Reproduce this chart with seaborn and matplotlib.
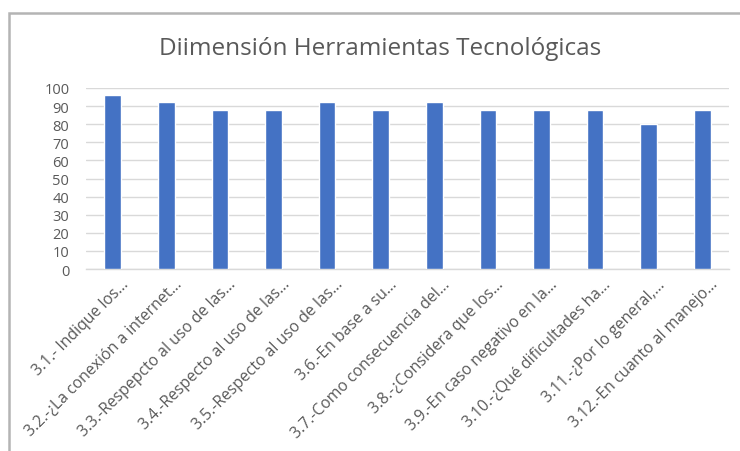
import matplotlib
matplotlib.use("Agg")
import matplotlib.pyplot as plt
import seaborn as sns
import pandas as pd
from matplotlib.transforms import ScaledTranslation

# Dimension data: one bar per question
preguntas = [
    "3.1.- Indique los…",
    "3.2.-¿La conexión a internet…",
    "3.3.-Respepcto al uso de las…",
    "3.4.-Respecto al uso de las…",
    "3.5.-Respecto al uso de las…",
    "3.6.-En base a su…",
    "3.7.-Como consecuencia del…",
    "3.8.-¿Considera que los…",
    "3.9.-En caso negativo en la…",
    "3.10.-¿Qué dificultades ha…",
    "3.11.-¿Por lo general,…",
    "3.12.-En cuanto al manejo…",
]
valores = [96, 92, 88, 88, 92, 88, 92, 88, 88, 88, 80, 88]
yticks = [0, 10, 20, 30, 40, 50, 60, 70, 80, 90, 100]
titulo = "Diimensión Herramientas Tecnológicas"

df = pd.DataFrame({"pregunta": preguntas, "valor": valores})

sns.set_theme(style="white")
plt.rcParams["font.family"] = ["Open Sans", "DejaVu Sans"]

texto = "#595959"
grid = "#d9d9d9"

fig = plt.figure(figsize=(7.4, 4.52), dpi=100)
ax = fig.add_axes([86 / 740, 1 - 270 / 452, (729 - 86) / 740, (270 - 89) / 452])

sns.barplot(data=df, x="pregunta", y="valor", color="#4472C4",
            saturation=1, width=0.31, ax=ax, zorder=3)

ax.set_ylim(0, 100)
ax.set_xlim(-0.5, len(preguntas) - 0.5)
ax.set_yticks(yticks)
ax.set_yticklabels([str(v) for v in yticks], fontsize=10.5, color=texto)
ax.yaxis.grid(True, color=grid, linewidth=1, zorder=0)
ax.set_axisbelow(True)
for s in ["top", "right", "left"]:
    ax.spines[s].set_visible(False)
ax.spines["bottom"].set_color(grid)
ax.spines["bottom"].set_linewidth(1)
ax.tick_params(axis="y", length=0, pad=12)
ax.tick_params(axis="x", length=0, pad=5)
ax.set_xlabel("")
ax.set_ylabel("")

ax.set_xticks(range(len(preguntas)))
ax.set_xticklabels(preguntas, rotation=45, ha="right", rotation_mode="anchor",
                   fontsize=11.3, color=texto)
shift = ScaledTranslation(8 / 100, 0, fig.dpi_scale_trans)
for lab in ax.get_xticklabels():
    lab.set_transform(lab.get_transform() + shift)

fig.text(0.514, 1 - 49 / 452, titulo, ha="center", va="center",
         fontsize=17.5, color=texto)

# chart area frame
frame = plt.Rectangle((9 / 740, -0.1), 1.2, 1 - 14 / 452 + 0.1,
                      transform=fig.transFigure, fill=False,
                      edgecolor="#b4b4b4", linewidth=1.8)
fig.patches.append(frame)

fig.savefig("out.png", dpi=100, facecolor="white")
